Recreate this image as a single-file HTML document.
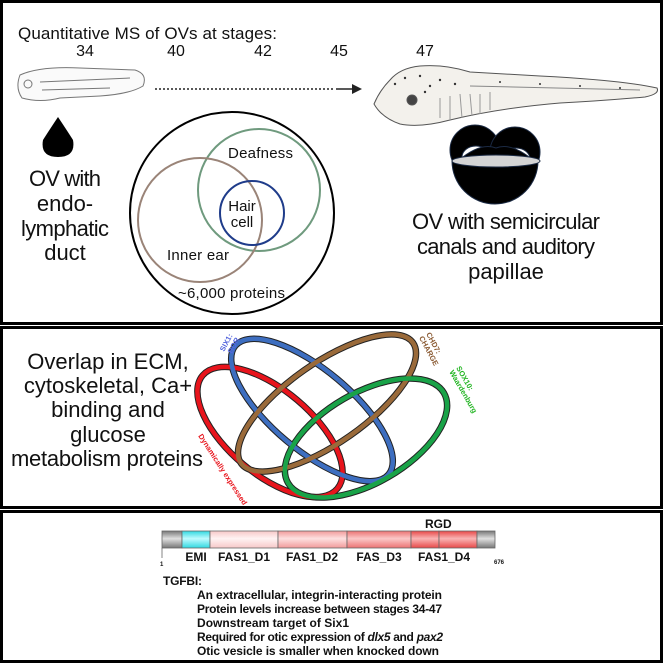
<!DOCTYPE html>
<html><head><meta charset="utf-8"><style>
html,body{margin:0;padding:0;background:#fff}
body{width:664px;height:664px;overflow:hidden;position:relative;font-family:"Liberation Sans",Arial,sans-serif}
svg{position:absolute;left:0;top:0}
</style></head><body>
<svg width="664" height="664" viewBox="0 0 664 664" xmlns="http://www.w3.org/2000/svg" font-family="Liberation Sans, Arial, sans-serif">
<rect x="1.5" y="1.5" width="660" height="322" fill="none" stroke="#000" stroke-width="3"/>
<rect x="1.5" y="327.5" width="660" height="180" fill="none" stroke="#000" stroke-width="3"/>
<rect x="1.5" y="511.5" width="660" height="150" fill="none" stroke="#000" stroke-width="3"/>

<text x="18" y="39" font-size="17" fill="#111" textLength="259">Quantitative MS of OVs at stages:</text>
<g font-size="16" fill="#111" text-anchor="middle">
<text x="85" y="56">34</text><text x="176" y="56">40</text><text x="263" y="56">42</text><text x="339" y="56">45</text><text x="425" y="56">47</text>
</g>
<g fill="none" stroke="#777" stroke-width="1">
<path d="M20,75 Q40,66 80,68 L135,70 Q148,74 143,86 Q130,94 100,96 L60,98 Q40,103 22,98 Q15,88 20,75Z" fill="#fafafa"/>
<path d="M40,82 L130,78 M42,90 L110,88"/>
<circle cx="28" cy="84" r="4"/>
</g>
<line x1="155" y1="89" x2="335" y2="89" stroke="#222" stroke-width="1.5" stroke-dasharray="2,2"/>
<line x1="336" y1="89" x2="356" y2="89" stroke="#222" stroke-width="1.5"/>
<path d="M362,89 L352,84 L352,94Z" fill="#222"/>
<g stroke="#555" stroke-width="1">
<path d="M374,104 Q380,90 390,80 Q400,68 420,66 Q445,64 470,72 L540,76 Q620,80 657,88 Q660,94 645,97 Q600,101 560,103 Q500,108 450,120 Q420,128 400,124 Q382,118 374,104Z" fill="#f3f1ec"/>
<circle cx="412" cy="100" r="5" fill="#444"/>
<path d="M440,98 L440,118 M450,96 L450,120 M460,94 L462,118 M470,94 L472,116 M480,94 L480,114 M490,92 L490,110" fill="none" stroke="#999"/>
<path d="M470,86 L640,90" fill="none" stroke="#888"/>
</g>
<g fill="#333">
<circle cx="395" cy="84" r="1.2"/><circle cx="405" cy="78" r="1.2"/><circle cx="420" cy="76" r="1.2"/><circle cx="430" cy="86" r="1.2"/><circle cx="425" cy="92" r="1.2"/><circle cx="440" cy="80" r="1.2"/><circle cx="455" cy="84" r="1.2"/><circle cx="500" cy="82" r="1"/><circle cx="540" cy="84" r="1"/><circle cx="580" cy="86" r="1"/><circle cx="620" cy="88" r="1"/>
</g>
<path d="M58,117 Q48,132 43,140 Q40,157 58,157 Q76,157 73,140 Q68,132 58,117Z" fill="#000"/>
<g font-size="22" fill="#111" text-anchor="middle">
<text x="65" y="186" textLength="72">OV with</text><text x="65" y="211">endo-</text><text x="65" y="236" textLength="88">lymphatic</text><text x="65" y="260">duct</text>
</g>
<ellipse cx="232" cy="213" rx="102" ry="101" fill="none" stroke="#000" stroke-width="2"/>
<circle cx="259" cy="190" r="61" fill="none" stroke="#6f9a7e" stroke-width="2"/>
<circle cx="200" cy="220" r="62" fill="none" stroke="#9a8478" stroke-width="2"/>
<circle cx="252" cy="213" r="32" fill="none" stroke="#1f3c8a" stroke-width="2"/>
<g font-size="15" fill="#111">
<text x="228" y="158" textLength="65">Deafness</text>
<text x="242" y="211" text-anchor="middle">Hair</text>
<text x="242" y="227" text-anchor="middle">cell</text>
<text x="167" y="260" textLength="62">Inner ear</text>
<text x="178" y="298" textLength="107">~6,000 proteins</text>
</g>
<g stroke="#1b2a44" stroke-width="1">
<circle cx="475" cy="150" r="25" fill="#000"/>
<circle cx="515" cy="152" r="25" fill="#000"/>
<ellipse cx="476" cy="157" rx="14" ry="11" fill="#fff"/>
<ellipse cx="516" cy="159" rx="14" ry="11" fill="#fff"/>
<path d="M452,161 A43,43 0 0 0 538,161 Z" fill="#000"/>
<path d="M458,161 Q480,142 496,148 Q512,142 534,161Z" fill="#000"/>
<ellipse cx="496" cy="161" rx="44" ry="6" fill="#d4d4d4"/>
</g>
<g font-size="22" fill="#111" text-anchor="middle">
<text x="506" y="229" textLength="188">OV with semicircular</text><text x="506" y="254" textLength="178">canals and auditory</text><text x="506" y="279">papillae</text>
</g>

<g font-size="22" fill="#111" text-anchor="middle">
<text x="108" y="369">Overlap in ECM,</text><text x="108" y="393">cytoskeletal, Ca+</text><text x="108" y="417">binding and</text><text x="108" y="442">glucose</text><text x="107" y="466" textLength="192">metabolism  proteins</text>
</g>
<g fill="none">
<g stroke="#222" stroke-width="6.5">
<ellipse cx="270" cy="432" rx="88" ry="42" transform="rotate(40 270 432)"/>
<ellipse cx="312" cy="410" rx="100" ry="40" transform="rotate(40 312 410)"/>
<ellipse cx="327" cy="403" rx="105" ry="40" transform="rotate(-35 327 403)"/>
<ellipse cx="366" cy="438" rx="90" ry="45" transform="rotate(-30 366 438)"/>
</g>
<ellipse cx="270" cy="432" rx="88" ry="42" transform="rotate(40 270 432)" stroke="#e8141c" stroke-width="4.5"/>
<ellipse cx="312" cy="410" rx="100" ry="40" transform="rotate(40 312 410)" stroke="#3d6ec0" stroke-width="4.5"/>
<ellipse cx="327" cy="403" rx="105" ry="40" transform="rotate(-35 327 403)" stroke="#9a6a3a" stroke-width="4.5"/>
<ellipse cx="366" cy="438" rx="90" ry="45" transform="rotate(-30 366 438)" stroke="#19a348" stroke-width="4.5"/>
</g>
<g font-size="7.5" font-weight="bold">
<g fill="#5566dd" transform="translate(224,352) rotate(-62)"><text x="0" y="0">SIX1:</text><text x="2" y="8">BOR</text></g>
<g fill="#8a5a32" transform="translate(426,334) rotate(62)"><text x="0" y="0">CHD7:</text><text x="0" y="8">CHARGE</text></g>
<g fill="#22b522" transform="translate(456,368) rotate(60)"><text x="0" y="0">SOX10:</text><text x="0" y="8">Waardenburg</text></g>
<text fill="#e8141c" transform="translate(198,436) rotate(57)">Dynamically expressed</text>
</g>

<defs>
<linearGradient id="gy" x1="0" y1="0" x2="0" y2="1"><stop offset="0" stop-color="#777"/><stop offset=".45" stop-color="#e0e0e0"/><stop offset="1" stop-color="#777"/></linearGradient>
<linearGradient id="cy" x1="0" y1="0" x2="0" y2="1"><stop offset="0" stop-color="#30d8e0"/><stop offset=".45" stop-color="#c0fbff"/><stop offset="1" stop-color="#30d8e0"/></linearGradient>
<linearGradient id="p1" x1="0" y1="0" x2="0" y2="1"><stop offset="0" stop-color="#f7c8c8"/><stop offset=".45" stop-color="#fff3f3"/><stop offset="1" stop-color="#f7c8c8"/></linearGradient>
<linearGradient id="p2" x1="0" y1="0" x2="0" y2="1"><stop offset="0" stop-color="#f29a9a"/><stop offset=".45" stop-color="#fde0e0"/><stop offset="1" stop-color="#f29a9a"/></linearGradient>
<linearGradient id="p3" x1="0" y1="0" x2="0" y2="1"><stop offset="0" stop-color="#ec7272"/><stop offset=".45" stop-color="#fbc8c8"/><stop offset="1" stop-color="#ec7272"/></linearGradient>
<linearGradient id="p4" x1="0" y1="0" x2="0" y2="1"><stop offset="0" stop-color="#e84848"/><stop offset=".45" stop-color="#f9b4b4"/><stop offset="1" stop-color="#e84848"/></linearGradient>
</defs>
<g stroke="#666" stroke-width="0.8">
<rect x="162" y="531" width="20" height="17" fill="url(#gy)"/>
<rect x="182" y="531" width="28" height="17" fill="url(#cy)"/>
<rect x="210" y="531" width="68" height="17" fill="url(#p1)"/>
<rect x="278" y="531" width="69" height="17" fill="url(#p2)"/>
<rect x="347" y="531" width="64" height="17" fill="url(#p3)"/>
<rect x="411" y="531" width="28" height="17" fill="url(#p4)"/>
<rect x="439" y="531" width="38" height="17" fill="url(#p4)"/>
<rect x="477" y="531" width="18" height="17" fill="url(#gy)"/>
<line x1="162" y1="548" x2="162" y2="558"/>
</g>
<g font-size="12" font-weight="bold" fill="#111">
<text x="425" y="528">RGD</text>
<text x="196" y="561" text-anchor="middle">EMI</text>
<text x="244" y="561" text-anchor="middle">FAS1_D1</text>
<text x="312" y="561" text-anchor="middle">FAS1_D2</text>
<text x="379" y="561" text-anchor="middle">FAS_D3</text>
<text x="444" y="561" text-anchor="middle">FAS1_D4</text>
<text x="160" y="566" font-size="6">1</text>
<text x="494" y="564" font-size="6">676</text>
<text x="163" y="585" textLength="39">TGFBI:</text>
<text x="197" y="599" textLength="245">An extracellular, integrin-interacting protein</text>
<text x="197" y="613" textLength="245">Protein levels increase between stages 34-47</text>
<text x="197" y="627" textLength="152">Downstream target of Six1</text>
<text x="197" y="641" textLength="246">Required for otic expression of <tspan font-style="italic">dlx5</tspan> and <tspan font-style="italic">pax2</tspan></text>
<text x="197" y="655" textLength="242">Otic vesicle is smaller when knocked down</text>
</g>
</svg>
</body></html>
